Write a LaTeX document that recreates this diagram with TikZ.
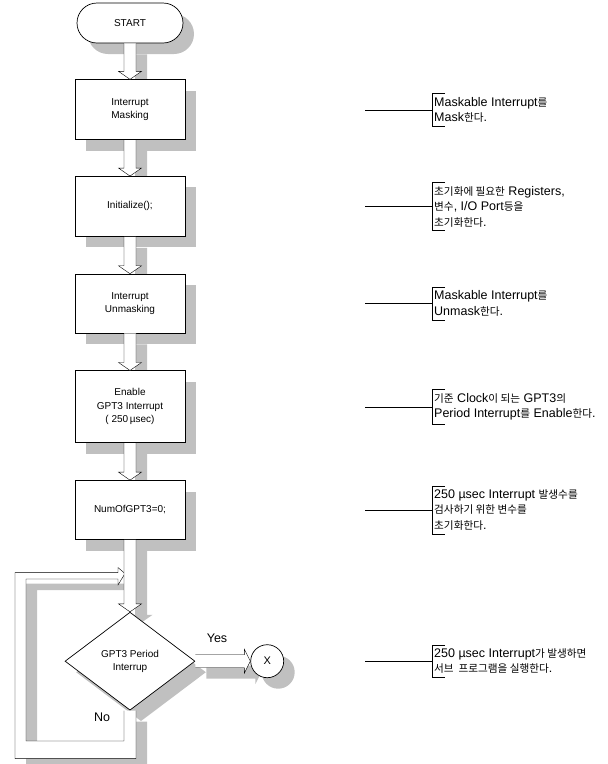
\documentclass[tikz,border=0pt]{standalone}
\usepackage{fontspec}
\setmainfont{Liberation Sans}
\newfontfamily\krfont[Scale=0.85]{Noto Sans CJK KR}
\newcommand\kr[1]{{\krfont #1}}
\usetikzlibrary{positioning, shapes.geometric, shapes.misc, shadows, calc}
\definecolor{shadegray}{RGB}{192,192,192}
\pgfdeclarelayer{bg}
\pgfsetlayers{bg,main}
% hollow block arrows between nodes (#3 = shadow offset)
\newcommand\downpath[3]{let \p1=([shift={(#3,-#3)}]#1), \p2=([shift={(#3,-#3)}]#2) in
  (\x1-6pt,\y1) -- (\x1-6pt,\y2+8pt) -- (\x1-11.5pt,\y2+8pt) -- (\x2,\y2)
  -- (\x1+11.5pt,\y2+8pt) -- (\x1+6pt,\y2+8pt) -- (\x1+6pt,\y1)}
\newcommand\rightpath[3]{let \p1=([shift={(#3,-#3)}]#1), \p2=([shift={(#3,-#3)}]#2) in
  (\x1,\y1+6.5pt) -- (\x2-6pt,\y1+6.5pt) -- (\x2-6pt,\y1+12pt) -- (\x2,\y2)
  -- (\x2-6pt,\y1-12pt) -- (\x2-6pt,\y1-6.5pt) -- (\x1,\y1-6.5pt)}
\newcommand\downblock[2]{%
  \begin{pgfonlayer}{bg}\fill[shadegray] \downpath{#1}{#2}{11pt};\end{pgfonlayer}
  \filldraw[fill=white] \downpath{#1}{#2}{0pt};}
\newcommand\rightblock[2]{%
  \begin{pgfonlayer}{bg}\fill[shadegray] \rightpath{#1}{#2}{11pt};\end{pgfonlayer}
  \filldraw[fill=white] \rightpath{#1}{#2}{0pt};}

\begin{document}
\begin{tikzpicture}[
    x=1pt, y=-1pt,
    line width=0.7pt,
    node distance=36pt,
    every node/.append style={font=\fontsize{10}{13.5}\selectfont},
    dropgray/.style={drop shadow={shadow xshift=11pt, shadow yshift=-11pt,
                     fill=shadegray, opacity=1}},
    box/.style={rectangle, draw, fill=white, dropgray, minimum width=110pt,
                minimum height=60pt, align=center, inner sep=2pt},
    term/.style={box, rounded rectangle, minimum height=40pt},
    decide/.style={diamond, draw, fill=white, dropgray, minimum width=130pt,
                   minimum height=98pt, align=center, inner sep=0pt},
    endpt/.style={circle, draw, fill=white, dropgray, minimum size=33pt,
                  inner sep=0pt, font=\fontsize{11}{13}\selectfont},
    note/.style={anchor=west, align=left, inner xsep=2pt, inner ysep=3.5pt,
                 font=\fontsize{12.5}{15.5}\selectfont},
    lbl/.style={font=\fontsize{12.5}{15}\selectfont},
  ]
  \useasboundingbox (0,0) rectangle (608,764);

  % flow
  \node[term] (start) at (130,23) {START};
  \node[box, below=of start] (mask) {Interrupt\\Masking};
  \node[box, below=of mask] (init) {Initialize();};
  \node[box, below=37pt of init, minimum height=59pt] (unmask) {Interrupt\\Unmasking};
  \node[box, below=37pt of unmask, minimum height=72pt] (gpt) {Enable\\GPT3 Interrupt\\( 250\,µsec)};
  \node[box, below=37pt of gpt, minimum height=59pt] (num) {NumOfGPT3=0;};
  \node[decide, below=72pt of num] (dec) {GPT3 Period\\Interrup};
  \node[endpt, right=55pt of dec] (xend) {X};

  % No loop back into the arrow
  \coordinate (merge) at (125,573.5);
  \begin{pgfonlayer}{bg}
    \fill[shadegray] ([shift={(17pt,-11pt)}]dec.south) -- ++(0,48) -- ++(-121,0)
      -- ++(0,-186) -- ++(103,0) -- ++(0,-5) -- ([shift={(11pt,-11pt)}]merge)
      -- ++(-7,11.5) -- ++(0,-6) -- ++(-92,0) -- ++(0,162) -- ++(98,0)
      -- ([shift={(5pt,-11pt)}]dec.south);
  \end{pgfonlayer}
  \filldraw[fill=white] ([xshift=6pt]dec.south) -- ++(0,48) -- ++(-121,0)
    -- ++(0,-186) -- ++(103,0) -- ++(0,-5) -- (merge)
    -- ++(-7,11.5) -- ++(0,-6) -- ++(-92,0) -- ++(0,162) -- ++(98,0)
    -- ([xshift=-6pt]dec.south);

  \downblock{start.south}{mask.north}
  \downblock{mask.south}{init.north}
  \downblock{init.south}{unmask.north}
  \downblock{unmask.south}{gpt.north}
  \downblock{gpt.south}{num.north}
  \downblock{num.south}{dec.north}
  \rightblock{dec.east}{xend.west}

  \node[lbl] (yes) at (217,638) {Yes};
  \node[lbl] (no) at (102,717) {No};

  % comments on the right
  \coordinate (notecol) at (432,0);
  \node[note] (n1) at (mask -| notecol) {Maskable Interrupt\kr{를}\\Mask\kr{한다}.};
  \node[note] (n2) at (init -| notecol) {\kr{초기화에 필요한} Registers,\\\kr{변수}, I/O Port\kr{등을}\\\kr{초기화한다}.};
  \node[note] (n3) at (unmask -| notecol) {Maskable Interrupt\kr{를}\\Unmask\kr{한다}.};
  \node[note] (n4) at (gpt -| notecol) {\kr{기준} Clock\kr{이 되는} GPT3\kr{의}\\Period Interrupt\kr{를} Enable\kr{한다}.};
  \node[note] (n5) at (num -| notecol) {250 µsec Interrupt \kr{발생수를}\\\kr{검사하기 위한 변수를}\\\kr{초기화한다}.};
  \node[note] (n6) at (dec -| notecol) {250 µsec Interrupt\kr{가 발생하면}\\\kr{서브~~프로그램을 실행한다}.};
  \foreach \n in {1,...,6}{
    \draw (n\n.west) -- ++(-67,0);
    \draw ([xshift=13pt]n\n.north west) -- (n\n.north west) -- (n\n.south west)
      -- ([xshift=13pt]n\n.south west);
  }
\end{tikzpicture}
\end{document}
